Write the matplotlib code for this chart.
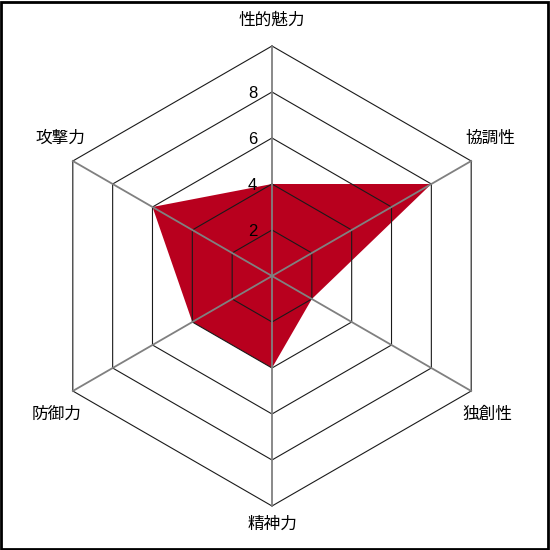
import numpy as np
import matplotlib
matplotlib.use("Agg")
import matplotlib.pyplot as plt
from matplotlib.patches import Rectangle

plt.rcParams['font.family'] = ['Noto Sans CJK JP', 'DejaVu Sans']

categories = ["性的魅力", "協調性", "独創性", "精神力", "防御力", "攻撃力"]
values = [4, 8, 2, 4, 4, 6]
rings = [2, 4, 6, 8, 10]
tick_labels = ["2", "4", "6", "8"]
r_max = 10


def to_xy(r, ang):
    return r * np.cos(ang), r * np.sin(ang)


def draw_radar():
    fig = plt.figure(figsize=(5.5, 5.5), dpi=100)
    ax = fig.add_axes([0, 0, 1, 1])
    px = 23.0  # pixels per unit
    ax.set_xlim(-272 / px, (550 - 272) / px)
    ax.set_ylim(-274 / px, 276 / px)
    ax.axis("off")

    n = len(categories)
    angles = np.deg2rad(90 - 60 * np.arange(n))

    # filled area
    xs, ys = to_xy(np.array(values, dtype=float), angles)
    ax.fill(xs, ys, color="#b8001e", lw=0, zorder=1)

    # hexagon grid
    closed = np.append(angles, angles[0])
    for r in rings:
        gx, gy = to_xy(r, closed)
        ax.plot(gx, gy, color="#1a1a1a", lw=0.8, zorder=2)

    # spokes
    for a in angles:
        sx, sy = to_xy(np.array([0, r_max]), a)
        ax.plot(sx, sy, color="#808080", lw=1.3, zorder=2)

    # tick labels along the top spoke
    for r, t in zip(rings, tick_labels):
        ax.text(-0.65, r - 0.05, t, ha="right", va="center", fontsize=12,
                family="Liberation Sans", color="black", zorder=3)

    # category labels
    offsets = [(0, 11.1), (9.5, 6.0), (9.35, -6.0), (0, -10.8),
               (-9.35, -6.0), (-9.2, 6.0)]
    for lab, (ox, oy) in zip(categories, offsets):
        ax.text(ox, oy, lab, ha="center", va="center", fontsize=12,
                color="black")

    fig.patches.append(Rectangle((0.002, 0.002), 0.995, 0.995, fill=False,
                                 ec="black", lw=2, transform=fig.transFigure))
    fig.savefig("out.png", dpi=100)


if __name__ == '__main__':
    draw_radar()
